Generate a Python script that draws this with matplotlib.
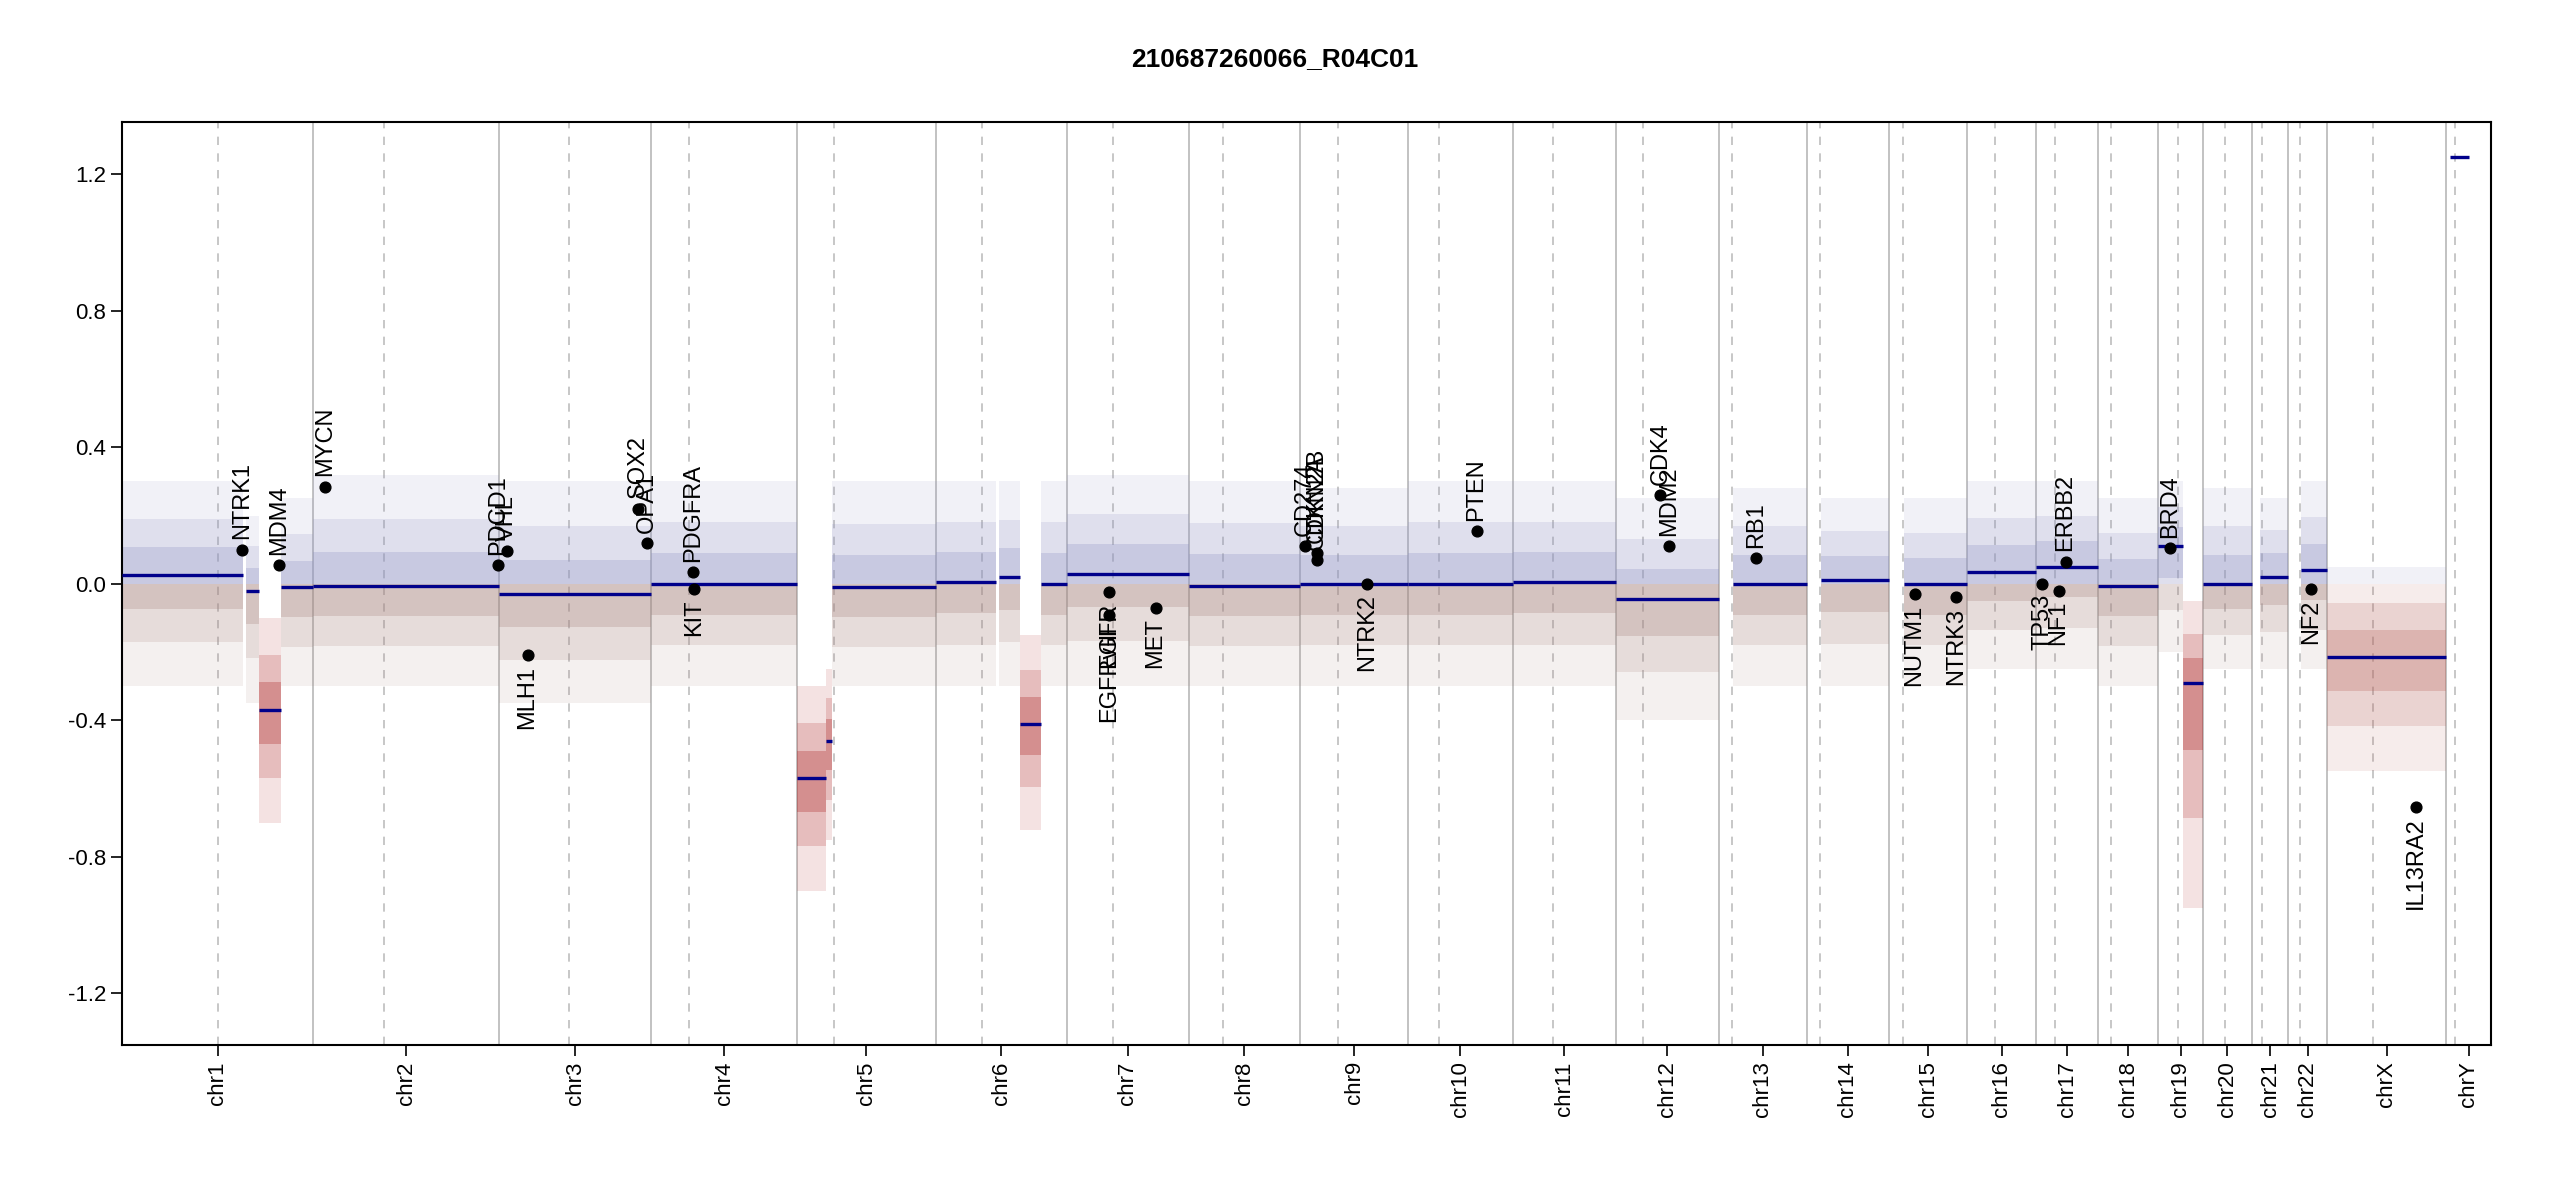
import matplotlib
matplotlib.use("Agg")
import matplotlib.pyplot as plt
import numpy as np

plt.rcParams["font.family"] = ["Liberation Sans", "DejaVu Sans"]

TITLE = "210687260066_R04C01"

CHROMS = ["chr1", "chr2", "chr3", "chr4", "chr5", "chr6", "chr7", "chr8", "chr9", "chr10",
          "chr11", "chr12", "chr13", "chr14", "chr15", "chr16", "chr17", "chr18", "chr19",
          "chr20", "chr21", "chr22", "chrX", "chrY"]
CHROM_LEN = [249, 243, 198, 191, 181, 171, 159, 146, 141, 136, 135, 134, 115, 107, 103,
             90, 81, 78, 59, 63, 48, 51, 155, 59]
CENTRO = [125, 93, 91, 50, 48, 60, 60, 45, 49, 40, 53, 35, 17, 17, 19, 36, 24, 17, 26,
          28, 13, 15, 60, 12]

# segments: chrom, start Mb, end Mb, mean, cloud low, cloud high
SEG_CHROM = ["chr1", "chr1", "chr1", "chr1", "chr2", "chr3", "chr4", "chr5", "chr5", "chr5",
             "chr6", "chr6", "chr6", "chr6", "chr7", "chr8", "chr9", "chr10", "chr11",
             "chr12", "chr13", "chr14", "chr15", "chr16", "chr17", "chr18", "chr19",
             "chr19", "chr20", "chr21", "chr22", "chrX", "chrY"]
SEG_START = [0, 162, 179, 207, 0, 0, 0, 0, 38, 46, 0, 82, 110, 137, 0, 0, 0, 0, 0, 0, 19, 19,
             20, 0, 0, 0, 0, 32, 0, 11, 16, 0, 5]
SEG_END = [158, 179, 207, 249, 243, 198, 191, 38, 46, 181, 78, 110, 137, 171, 159, 146, 141,
           136, 135, 134, 115, 107, 103, 90, 81, 78, 32, 59, 63, 48, 51, 155, 30]
SEG_MEAN = [0.025, -0.02, -0.37, -0.01, -0.005, -0.03, 0.0, -0.57, -0.46, -0.01, 0.005,
            0.02, -0.41, 0.0, 0.03, -0.005, 0.0, 0.0, 0.005, -0.045, 0.0, 0.01, 0.0, 0.035,
            0.05, -0.005, 0.11, -0.29, 0.0, 0.02, 0.04, -0.215, 1.25]
SEG_LO = [-0.3, -0.35, -0.7, -0.3, -0.3, -0.35, -0.3, -0.9, -0.75, -0.3, -0.3, -0.3, -0.72,
          -0.3, -0.3, -0.3, -0.3, -0.3, -0.3, -0.4, -0.3, -0.3, -0.3, -0.25, -0.25, -0.3,
          -0.2, -0.95, -0.25, -0.25, -0.25, -0.55, 1.25]
SEG_HI = [0.3, 0.2, -0.1, 0.25, 0.32, 0.3, 0.3, -0.3, -0.25, 0.3, 0.3, 0.3, -0.15, 0.3,
          0.32, 0.3, 0.28, 0.3, 0.3, 0.25, 0.28, 0.25, 0.25, 0.3, 0.3, 0.25, 0.3, -0.05,
          0.28, 0.25, 0.3, 0.05, 1.25]

GENE_NAME = ["NTRK1", "MDM4", "MYCN", "PDCD1", "VHL", "MLH1", "SOX2", "OPA1", "PDGFRA",
             "KIT", "EGFR", "EGFRvIII", "MET", "CD274", "CDKN2B", "CDKN2A", "NTRK2", "PTEN",
             "CDK4", "MDM2", "RB1", "NUTM1", "NTRK3", "TP53", "NF1", "ERBB2", "BRD4", "NF2",
             "IL13RA2"]
GENE_CHROM = ["chr1", "chr1", "chr2", "chr2", "chr3", "chr3", "chr3", "chr3", "chr4", "chr4",
              "chr7", "chr7", "chr7", "chr9", "chr9", "chr9", "chr9", "chr10", "chr12",
              "chr12", "chr13", "chr15", "chr15", "chr17", "chr17", "chr17", "chr19",
              "chr22", "chrX"]
GENE_POS = [156, 204, 16, 242, 10, 37, 181, 193, 55, 56, 55, 55.5, 116, 5.5, 22, 22, 87,
            89, 58, 69, 49, 34, 88, 7.5, 29, 38, 15, 30, 115]
GENE_VAL = [0.10, 0.055, 0.285, 0.055, 0.095, -0.21, 0.22, 0.12, 0.035, -0.015, -0.025,
            -0.09, -0.07, 0.11, 0.09, 0.07, 0.0, 0.155, 0.26, 0.11, 0.075, -0.03, -0.04,
            0.0, -0.02, 0.065, 0.105, -0.015, -0.655]
GENE_UP = [True, True, True, True, True, False, True, True, True, False, False, False, False,
           True, True, True, False, True, True, True, True, False, False, False, False,
           True, True, False, False]

offset = dict(zip(CHROMS, np.concatenate([[0], np.cumsum(CHROM_LEN)[:-1]])))
total = sum(CHROM_LEN)

fig = plt.figure(figsize=(25.5, 12), dpi=100)
ax = fig.add_axes([0.048, 0.129, 0.929, 0.769])
ax.set_xlim(0, total)
ax.set_ylim(-1.352, 1.352)

# chromosome boundaries and centromeres
for c, L, cen in zip(CHROMS, CHROM_LEN, CENTRO):
    o = offset[c]
    if o > 0:
        ax.axvline(o, color="#bdbdbd", lw=1.3, zorder=0)
    ax.axvline(o + cen, color="#bdbdbd", lw=1.2, ls=(0, (5, 5)), zorder=0)

# probe clouds, drawn as nested bands
for c, s, e, m, lo, hi in zip(SEG_CHROM, SEG_START, SEG_END, SEG_MEAN, SEG_LO, SEG_HI):
    if c == "chrY":
        continue
    x0, x1 = offset[c] + s, offset[c] + e
    deep = m < -0.2 and c != "chrX"
    for frac, alpha in [(1.0, 0.12), (0.6, 0.18), (0.3, 0.28)]:
        blo = m + (lo - m) * frac
        bhi = m + (hi - m) * frac
        if bhi > 0:
            ax.fill_between([x0, x1], max(blo, 0), bhi, color="#8f91c4", alpha=alpha,
                            lw=0, zorder=1)
        if blo < 0:
            col = "#a81818" if deep else ("#b8645c" if c == "chrX" else "#a88480")
            ax.fill_between([x0, x1], blo, min(bhi, 0), color=col, alpha=alpha,
                            lw=0, zorder=1)

# segment means
for c, s, e, m in zip(SEG_CHROM, SEG_START, SEG_END, SEG_MEAN):
    ax.plot([offset[c] + s, offset[c] + e], [m, m], color="#00008b", lw=2.4,
            solid_capstyle="butt", zorder=3)

# genes
for n, c, p, v, up in zip(GENE_NAME, GENE_CHROM, GENE_POS, GENE_VAL, GENE_UP):
    x = offset[c] + p
    ax.scatter([x], [v], s=60, color="black", zorder=5)
    if up:
        ax.text(x, v + 0.03, n, rotation=90, ha="center", va="bottom", fontsize=17,
                zorder=6)
    else:
        ax.text(x, v - 0.03, n, rotation=90, ha="center", va="top", fontsize=17,
                zorder=6)

centers = [offset[c] + L / 2 for c, L in zip(CHROMS, CHROM_LEN)]
ax.set_xticks(centers)
ax.set_xticklabels(CHROMS, rotation=90, fontsize=16)
ax.set_yticks(np.arange(-1.2, 1.21, 0.4))
ax.set_yticklabels([f"{v:.1f}" for v in np.arange(-1.2, 1.21, 0.4)], fontsize=16)
ax.tick_params(length=8, width=1.2)
for sp in ax.spines.values():
    sp.set_linewidth(1.5)

fig.text(0.5, 0.945, TITLE, ha="center", fontsize=19, weight="bold")
fig.savefig("out.png", dpi=100)
